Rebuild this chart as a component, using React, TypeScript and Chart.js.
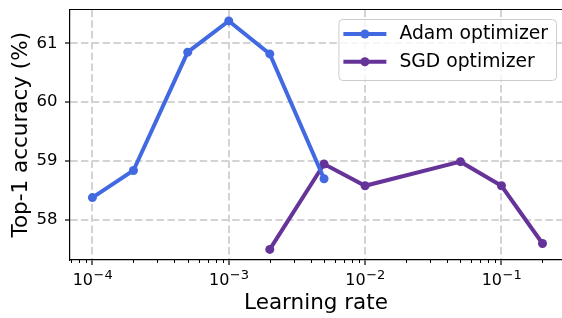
import React, { useEffect, useRef } from 'react';
import { Chart, registerables } from 'chart.js';

Chart.register(...registerables);

// ---- data ----
const adamLR = [1e-4, 2e-4, 5e-4, 1e-3, 2e-3, 5e-3];
const adamAcc = [58.38, 58.84, 60.85, 61.38, 60.82, 58.7];
const sgdLR = [2e-3, 5e-3, 1e-2, 5e-2, 1e-1, 2e-1];
const sgdAcc = [57.5, 58.95, 58.58, 58.99, 58.58, 57.6];
const seriesLabels = ['Adam optimizer', 'SGD optimizer'];
const seriesColors = ['#4169E1', '#663399'];
const xMajorTicks = [1e-4, 1e-3, 1e-2, 1e-1];
const yTicks = [58, 59, 60, 61];
const xTitle = 'Learning rate';
const yTitle = 'Top-1 accuracy (%)';
const xMin = 6.85e-5;
const xMax = 0.278;
const yMin = 57.32;
const yMax = 61.574;

const FONT = "'DejaVu Sans', sans-serif";

const decorPlugin = {
  id: 'decor',
  afterDraw(chart: any) {
    const { ctx, chartArea } = chart;
    const xs = chart.scales.x;
    ctx.save();
    // top spine
    ctx.strokeStyle = '#000';
    ctx.lineWidth = 1.2;
    ctx.beginPath();
    ctx.moveTo(chartArea.left, chartArea.top);
    ctx.lineTo(chartArea.right, chartArea.top);
    ctx.stroke();

    // minor ticks
    ctx.lineWidth = 1;
    const e0 = Math.floor(Math.log10(xs.min));
    const e1 = Math.ceil(Math.log10(xs.max));
    for (let e = e0; e <= e1; e++) {
      for (let k = 2; k <= 9; k++) {
        const v = k * Math.pow(10, e);
        if (v < xs.min || v > xs.max) continue;
        const px = Math.round(xs.getPixelForValue(v)) + 0.5;
        ctx.beginPath();
        ctx.moveTo(px, chartArea.bottom);
        ctx.lineTo(px, chartArea.bottom + 3);
        ctx.stroke();
      }
    }

    // x tick labels with superscript exponents
    ctx.fillStyle = '#000';
    ctx.textBaseline = 'alphabetic';
    ctx.textAlign = 'left';
    const base = chartArea.bottom + 25;
    const supSize = 13;
    xs.ticks.forEach((t: any) => {
      const exp = Math.round(Math.log10(t.value));
      const main = '10';
      const sup = (exp < 0 ? '\u2212' : '') + Math.abs(exp);
      ctx.font = `16px ${FONT}`;
      const wm = ctx.measureText(main).width;
      ctx.font = `${supSize}px ${FONT}`;
      const ws = ctx.measureText(sup).width;
      const px = xs.getPixelForValue(t.value);
      const x0 = px - (wm + ws) / 2;
      ctx.font = `16px ${FONT}`;
      ctx.fillText(main, x0, base);
      ctx.font = `${supSize}px ${FONT}`;
      ctx.fillText(sup, x0 + wm + 0.5, base - 6.5);
    });

    // legend
    const fs = 18.75;
    ctx.font = `${fs}px ${FONT}`;
    const tw = Math.max(...seriesLabels.map((l) => ctx.measureText(l).width));
    const bw = 5 + 43 + 13 + tw + 8;
    const bh = 61;
    const bx = chartArea.right - 6 - bw;
    const by = chartArea.top + 9.5;
    ctx.beginPath();
    ctx.roundRect(bx + 0.5, by + 0.5, bw, bh, 4);
    ctx.fillStyle = 'rgba(255,255,255,0.8)';
    ctx.fill();
    ctx.strokeStyle = '#cccccc';
    ctx.lineWidth = 1;
    ctx.stroke();
    seriesLabels.forEach((label, i) => {
      const cy = by + 15 + i * 27.7;
      const hx = bx + 5;
      ctx.strokeStyle = seriesColors[i];
      ctx.lineWidth = 4;
      ctx.beginPath();
      ctx.moveTo(hx, cy);
      ctx.lineTo(hx + 43, cy);
      ctx.stroke();
      ctx.fillStyle = seriesColors[i];
      ctx.beginPath();
      ctx.arc(hx + 21.5, cy, 4.5, 0, Math.PI * 2);
      ctx.fill();
      ctx.fillStyle = '#000';
      ctx.textBaseline = 'middle';
      ctx.font = `${fs}px ${FONT}`;
      ctx.fillText(label, hx + 43 + 13, cy);
    });
    ctx.restore();
  },
};

export default function App() {
  const ref = useRef<HTMLCanvasElement | null>(null);
  useEffect(() => {
    if (!ref.current) return;
    const mk = (xs: number[], ys: number[]) => xs.map((x, i) => ({ x, y: ys[i] }));
    const chart = new Chart(ref.current, {
      type: 'line',
      data: {
        datasets: [
          { label: seriesLabels[0], data: mk(adamLR, adamAcc) },
          { label: seriesLabels[1], data: mk(sgdLR, sgdAcc) },
        ].map((d, i) => ({
          ...d,
          borderColor: seriesColors[i],
          backgroundColor: seriesColors[i],
          pointBackgroundColor: seriesColors[i],
          pointBorderWidth: 0,
          pointRadius: 4.5,
          borderWidth: 4,
          tension: 0,
          fill: false,
        })),
      },
      options: {
        responsive: false,
        animation: false,
        layout: { autoPadding: false, padding: { top: 9.5, right: 0, bottom: 0, left: 0 } },
        plugins: { legend: { display: false }, tooltip: { enabled: false } },
        scales: {
          x: {
            type: 'logarithmic',
            min: xMin,
            max: xMax,
            afterBuildTicks: (s: any) => {
              s.ticks = xMajorTicks.map((v) => ({ value: v }));
            },
            afterFit: (s: any) => {
              s.height = 58;
              s.paddingLeft = 0;
              s.paddingRight = 0;
            },
            ticks: { display: false },
            grid: {
              color: '#d3d3d3',
              lineWidth: 2,
              tickColor: '#000',
              tickWidth: 1.2,
              tickLength: 5,
            },
            border: { display: true, color: '#000', width: 1.2, dash: [7.4, 3.4] },
            title: {
              display: true,
              text: xTitle,
              color: '#000',
              font: { family: FONT, size: 21.5 },
              padding: { top: 0, bottom: 1.5 },
            },
          },
          y: {
            type: 'linear',
            min: yMin,
            max: yMax,
            afterBuildTicks: (s: any) => {
              s.ticks = yTicks.map((v) => ({ value: v }));
            },
            afterFit: (s: any) => {
              s.width = 70;
              s.paddingTop = 0;
              s.paddingBottom = 0;
            },
            ticks: {
              color: '#000',
              font: { family: FONT, size: 16.5 },
              padding: 7.5,
              callback: (v: any) => String(v),
            },
            grid: {
              color: '#d3d3d3',
              lineWidth: 2,
              tickColor: '#000',
              tickWidth: 1.2,
              tickLength: 5,
            },
            border: { display: true, color: '#000', width: 1.2, dash: [7.4, 3.4] },
            title: {
              display: true,
              text: yTitle,
              color: '#000',
              font: { family: FONT, size: 21.5 },
              padding: { top: 8.7, bottom: 0 },
            },
          },
        },
      },
      plugins: [decorPlugin],
    } as any);
    return () => chart.destroy();
  }, []);
  return (
    <div style={{ position: 'absolute', left: 0, top: 0, width: 562, height: 318, overflow: 'hidden' }}>
      <canvas ref={ref} width={562} height={318} style={{ display: 'block' }} />
    </div>
  );
}
